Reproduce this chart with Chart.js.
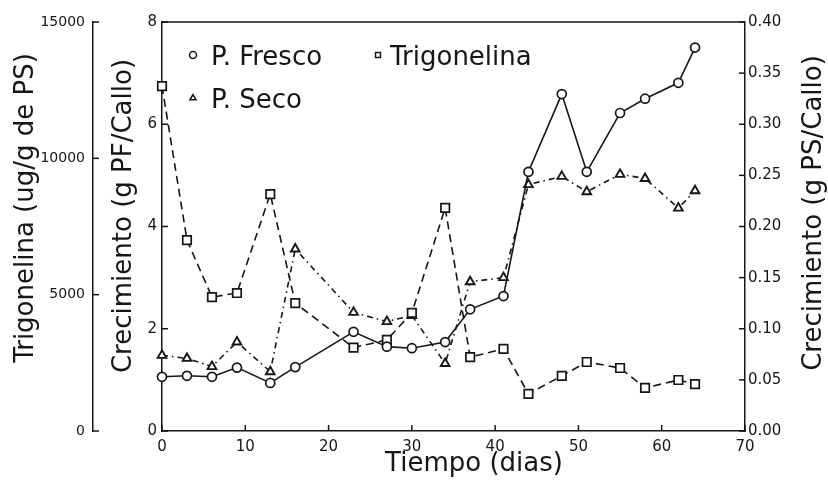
<!DOCTYPE html>
<html>
<head>
<meta charset="utf-8">
<script src="https://cdn.jsdelivr.net/npm/chart.js@4.4.1/dist/chart.umd.min.js"></script>
<style>
  body { margin: 0; background: #fff; }
</style>
</head>
<body>
<canvas id="myChart" width="828" height="485"></canvas>
<script>
// sampling days (x axis)
const days = [0, 3, 6, 9, 13, 16, 23, 27, 30, 34, 37, 41, 44, 48, 51, 55, 58, 62, 64];

// fresh weight, g PF/Callo (inner left axis)
const pFresco = [1.06, 1.08, 1.06, 1.24, 0.94, 1.25, 1.94, 1.65, 1.62, 1.74, 2.38, 2.64, 5.07, 6.59, 5.07, 6.22, 6.50, 6.81, 7.50];

// trigonelline, ug/g de PS (outer left axis)
const trigonelina = [12650, 7000, 4910, 5060, 8690, 4690, 3060, 3340, 4330, 8180, 2710, 3010, 1360, 2020, 2530, 2310, 1580, 1870, 1720];

// dry weight, g PS/Callo (right axis)
const pSeco = [0.074, 0.071, 0.063, 0.087, 0.058, 0.178, 0.116, 0.107, 0.113, 0.066, 0.146, 0.150, 0.241, 0.249, 0.234, 0.251, 0.247, 0.218, 0.235];

const FONT = 'DejaVu Sans';
const INK = '#161616';

const toXY = ys => days.map((d, i) => ({ x: d, y: ys[i] }));

// draws inward tick marks, the top frame line, axis titles and the legend
const framePlugin = {
  id: 'frame',
  afterDraw(chart) {
    const { ctx, chartArea: a, scales } = chart;
    ctx.save();
    ctx.strokeStyle = INK;
    ctx.lineWidth = 1.5;

    ctx.beginPath();
    ctx.moveTo(a.left, a.top);
    ctx.lineTo(a.right, a.top);
    ctx.stroke();

    const marks = (scale, x0, dir, len) => {
      scale.ticks.forEach(t => {
        const p = scale.getPixelForValue(t.value);
        ctx.beginPath();
        if (scale.isHorizontal()) {
          ctx.moveTo(p, a.bottom);
          ctx.lineTo(p, a.bottom - len);
        } else {
          ctx.moveTo(x0, p);
          ctx.lineTo(x0 + dir * len, p);
        }
        ctx.stroke();
      });
    };
    marks(scales.x, 0, 0, 6);
    marks(scales.yT, scales.yT.right, 1, 6);
    marks(scales.yF, scales.yF.right, 1, 6);
    marks(scales.yS, scales.yS.left, -1, 6);

    // axis titles
    ctx.fillStyle = INK;
    ctx.font = '26px "' + FONT + '"';
    ctx.textAlign = 'center';
    ctx.textBaseline = 'middle';
    const vText = (text, x, y) => {
      ctx.save();
      ctx.translate(x, y);
      ctx.rotate(-Math.PI / 2);
      ctx.fillText(text, 0, 0);
      ctx.restore();
    };
    vText(scales.yT.options.title.text, 26, 208);
    vText(scales.yF.options.title.text, 124, 216);
    vText(scales.yS.options.title.text, 814, 213);
    ctx.fillText(scales.x.options.title.text, 474, 464);

    // legend
    const items = [
      { ds: 0, mx: 193, tx: 211, y: 55 },
      { ds: 1, mx: 378, tx: 390, y: 55 },
      { ds: 2, mx: 193, tx: 211, y: 98 }
    ];
    ctx.textAlign = 'left';
    ctx.textBaseline = 'alphabetic';
    items.forEach(it => {
      const ds = chart.data.datasets[it.ds];
      ctx.fillStyle = '#fff';
      ctx.strokeStyle = INK;
      ctx.lineWidth = 1.5;
      Chart.helpers.drawPoint(ctx, { pointStyle: ds.pointStyle, radius: 3.5, borderWidth: 1.5, rotation: 0 }, it.mx, it.y);
      ctx.fillStyle = INK;
      ctx.fillText(ds.label, it.tx, it.y + 10);
    });
    ctx.restore();
  }
};

const tickFont = { family: FONT, size: 15 };

new Chart(document.getElementById('myChart'), {
  type: 'line',
  data: {
    datasets: [{
      label: 'P. Fresco',
      data: toXY(pFresco),
      yAxisID: 'yF',
      borderColor: INK,
      borderWidth: 1.6,
      pointStyle: 'circle',
      pointRadius: 4.5,
      pointBorderWidth: 1.7,
      pointBackgroundColor: '#fff',
      pointBorderColor: INK,
      clip: false
    }, {
      label: 'Trigonelina',
      data: toXY(trigonelina),
      yAxisID: 'yT',
      borderColor: INK,
      borderWidth: 1.6,
      borderDash: [8, 5],
      pointStyle: 'rect',
      pointRadius: 6,
      pointBorderWidth: 1.7,
      pointBackgroundColor: '#fff',
      pointBorderColor: INK,
      clip: false
    }, {
      label: 'P. Seco',
      data: toXY(pSeco),
      yAxisID: 'yS',
      borderColor: INK,
      borderWidth: 1.6,
      borderDash: [6, 4, 1.5, 4],
      pointStyle: 'triangle',
      pointRadius: 5,
      pointBorderWidth: 1.9,
      pointBackgroundColor: '#fff',
      pointBorderColor: INK,
      clip: false
    }]
  },
  options: {
    responsive: false,
    animation: false,
    layout: { padding: { top: 22, left: 0, right: 0, bottom: 0 } },
    plugins: {
      legend: { display: false },
      tooltip: { enabled: false }
    },
    scales: {
      x: {
        type: 'linear',
        min: 0,
        max: 70,
        title: { display: false, text: 'Tiempo (dias)' },
        ticks: { stepSize: 10, padding: 7, color: INK, font: tickFont },
        grid: { drawOnChartArea: false, drawTicks: false },
        border: { color: INK, width: 1.5 },
        afterFit: s => { s.height = 54; }
      },
      yF: {
        position: 'left',
        weight: 0,
        min: 0,
        max: 8,
        title: { display: false, text: 'Crecimiento (g PF/Callo)' },
        ticks: { stepSize: 2, padding: 5, color: INK, font: tickFont },
        grid: { drawOnChartArea: false, drawTicks: false },
        border: { color: INK, width: 1.5 },
        afterFit: s => { s.width = 69; }
      },
      yT: {
        position: 'left',
        weight: 1,
        min: 0,
        max: 15000,
        title: { display: false, text: 'Trigonelina (ug/g de PS)' },
        ticks: { stepSize: 5000, padding: 8, color: INK, font: { family: FONT, size: 14 }, callback: v => String(v) },
        grid: { drawOnChartArea: false, drawTicks: false },
        border: { color: INK, width: 1.5 },
        afterFit: s => { s.width = 93; }
      },
      yS: {
        position: 'right',
        min: 0,
        max: 0.4,
        title: { display: false, text: 'Crecimiento (g PS/Callo)' },
        ticks: { stepSize: 0.05, padding: 3, color: INK, font: tickFont, callback: v => v.toFixed(2) },
        grid: { drawOnChartArea: false, drawTicks: false },
        border: { color: INK, width: 1.5 },
        afterFit: s => { s.width = 83; }
      }
    }
  },
  plugins: [framePlugin]
});
</script>
</body>
</html>
